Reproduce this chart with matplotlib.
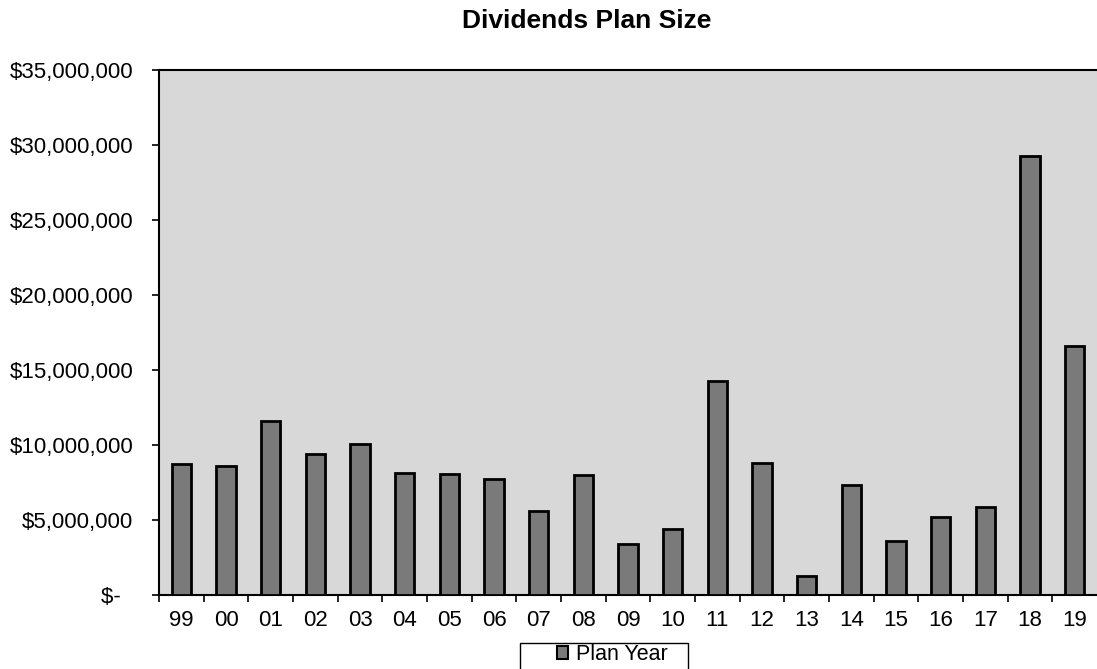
import matplotlib
matplotlib.use("Agg")
import matplotlib.pyplot as plt
from matplotlib.patches import Patch, Rectangle
from matplotlib.ticker import FuncFormatter, MultipleLocator

plan_years = ["99", "00", "01", "02", "03", "04", "05", "06", "07", "08", "09",
              "10", "11", "12", "13", "14", "15", "16", "17", "18", "19"]
plan_size = [8730000, 8600000, 11580000, 9400000, 10070000, 8130000, 8050000,
             7760000, 5580000, 7980000, 3420000, 4380000, 14270000, 8820000,
             1290000, 7310000, 3630000, 5180000, 5850000, 29290000, 16620000]


def money(v, pos):
    # excel accounting style, zero shown as a dash
    if v == 0:
        return "$-  "
    return "${:,.0f}".format(v)


def main():
    plt.rcParams["font.family"] = ["Liberation Sans", "DejaVu Sans"]
    fig = plt.figure(figsize=(10.97, 6.69), dpi=100)
    ax = fig.add_axes([0.145, 0.1106, 0.855, 0.7848])
    ax.set_facecolor("#d8d8d8")

    x = list(range(len(plan_years)))
    ax.bar(x, plan_size, width=0.43, color="#7a7a7a", edgecolor="black",
           linewidth=2, zorder=3)

    ax.set_xlim(-0.5, len(plan_years) - 0.5)
    ax.set_ylim(0, 35000000)
    ax.yaxis.set_major_locator(MultipleLocator(5000000))
    ax.yaxis.set_major_formatter(FuncFormatter(money))

    ax.set_xticks(x)
    ax.set_xticklabels(plan_years)
    ax.tick_params(axis="x", which="major", length=0, labelsize=16, pad=11)
    ax.set_xticks([i - 0.5 for i in x], minor=True)
    ax.tick_params(axis="x", which="minor", length=5, width=1.2, direction="out")
    ax.tick_params(axis="y", length=5, width=1.2, labelsize=16, pad=13.5)

    for side in ["left", "bottom", "top"]:
        ax.spines[side].set_linewidth(1.5)
    ax.spines["right"].set_visible(False)

    fig.text(0.535, 0.968, "Dividends Plan Size", ha="center", va="center",
             fontsize=19, fontweight="bold")

    # legend box, runs off the bottom edge like the scan
    box = Rectangle((0.474, -0.01), 0.153, 0.0489, transform=fig.transFigure,
                    facecolor="white", edgecolor="black", linewidth=1)
    fig.patches.append(box)

    handle = Patch(facecolor="#7a7a7a", edgecolor="black", linewidth=1.5)
    fig.legend([handle], ["Plan Year"], loc="center",
               bbox_to_anchor=(0.558, 0.021), fontsize=15.5,
               handlelength=0.55, handleheight=0.55, handletextpad=0.35,
               frameon=False, borderpad=0, borderaxespad=0)

    fig.savefig("out.png", dpi=100)


if __name__ == "__main__":
    main()
